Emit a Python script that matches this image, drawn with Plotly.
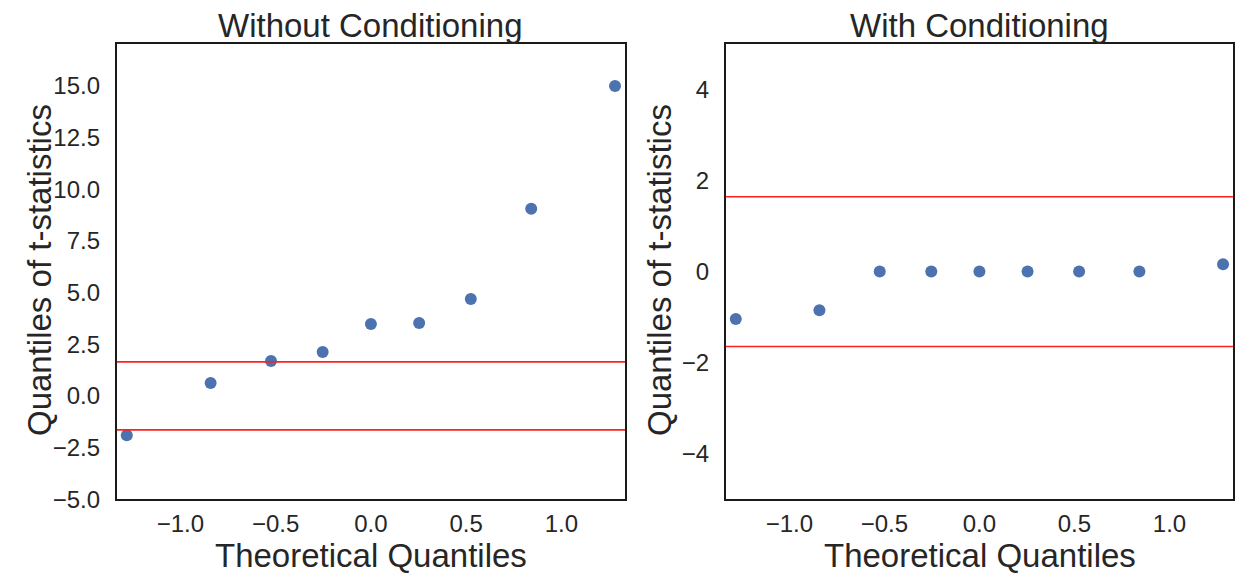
import plotly.graph_objects as go

# ---- data ----
theoretical_q = [-1.2816, -0.8416, -0.5244, -0.2533, 0.0, 0.2533, 0.5244, 0.8416, 1.2816]
t_without = [-1.9, 0.63, 1.69, 2.13, 3.48, 3.53, 4.69, 9.05, 15.0]
t_with = [-1.04, -0.85, 0.0, 0.0, 0.0, 0.0, 0.0, 0.0, 0.16]
crit = 1.645
titles = ["Without Conditioning", "With Conditioning"]
x_label = "Theoretical Quantiles"
y_label = "Quantiles of t-statistics"
left_yticks = [-5.0, -2.5, 0.0, 2.5, 5.0, 7.5, 10.0, 12.5, 15.0]
right_yticks = [-4, -2, 0, 2, 4]
xticks = [-1.0, -0.5, 0.0, 0.5, 1.0]

# page has an 8px body margin
PAD = 8
VH = 585                      # effective page height seen by the capture
W, H = 1243 - 2 * PAD, VH - 2 * PAD
FONT = "Liberation Sans, Arial, sans-serif"
TXT = "#262626"
BLUE = "#4C72B0"

def px_x(p):
    return (p - PAD) / W

def px_y(p):
    return 1 - (p * VH / 575 - PAD) / H

fig = go.Figure()

fig.add_trace(go.Scatter(x=theoretical_q, y=t_without, mode="markers",
                         marker=dict(color=BLUE, size=12), xaxis="x", yaxis="y",
                         showlegend=False, cliponaxis=False))
fig.add_trace(go.Scatter(x=theoretical_q, y=t_with, mode="markers",
                         marker=dict(color=BLUE, size=12), xaxis="x2", yaxis="y2",
                         showlegend=False, cliponaxis=False))

for xr, yr in (("x", "y"), ("x2", "y2")):
    for v in (crit, -crit):
        fig.add_shape(type="line", xref=f"{xr} domain", yref=yr, x0=0, x1=1, y0=v, y1=v,
                      line=dict(color="#ff2020", width=1.6), layer="above")

axis_common = dict(showgrid=False, zeroline=False, showline=True, mirror=True,
                   linecolor="#1a1a1a", linewidth=2, ticks="outside",
                   tickcolor="rgba(0,0,0,0)",
                   tickfont=dict(family=FONT, size=24, color=TXT))

xr = [-1.334, 1.334]
dom_y = [px_y(502), px_y(44)]
fmt = lambda v: f"{v:.1f}".replace("-", "\u2212")
fig.update_layout(
    width=W, height=H,
    margin=dict(l=0, r=0, t=0, b=0),
    paper_bgcolor="white", plot_bgcolor="white",
    xaxis=dict(domain=[px_x(117), px_x(626)], range=xr, tickvals=xticks,
               ticktext=[fmt(v) for v in xticks], ticklen=2, anchor="y", **axis_common),
    yaxis=dict(domain=dom_y, range=[-5.0, 17.03], tickvals=left_yticks,
               ticktext=[fmt(v) for v in left_yticks], ticklen=10, anchor="x", **axis_common),
    xaxis2=dict(domain=[px_x(727), min(1.0, px_x(1236))], range=xr, tickvals=xticks,
                ticktext=[fmt(v) for v in xticks], ticklen=2, anchor="y2", **axis_common),
    yaxis2=dict(domain=dom_y, range=[-5.0, 5.0], tickvals=right_yticks,
                ticktext=[str(v).replace("-", "\u2212") for v in right_yticks],
                ticklen=10, anchor="x2", **axis_common),
)

ann = []
centers = [(117 + 626) / 2, (727 + 1236) / 2]
ylab_x = [39, 660]
for i in range(2):
    ann.append(dict(text=titles[i], x=px_x(centers[i]), y=px_y(25), xref="paper", yref="paper",
                    xanchor="center", yanchor="middle", showarrow=False,
                    font=dict(family=FONT, size=33, color=TXT)))
    ann.append(dict(text=x_label, x=px_x(centers[i]), y=px_y(558.5), xref="paper", yref="paper",
                    xanchor="center", yanchor="middle", showarrow=False,
                    font=dict(family=FONT, size=33, color=TXT)))
    ann.append(dict(text=y_label, x=px_x(ylab_x[i]), y=px_y(271.5), xref="paper", yref="paper",
                    xanchor="center", yanchor="middle", showarrow=False, textangle=-90,
                    font=dict(family=FONT, size=33, color=TXT)))
fig.update_layout(annotations=ann)

fig.write_html("out.html")
